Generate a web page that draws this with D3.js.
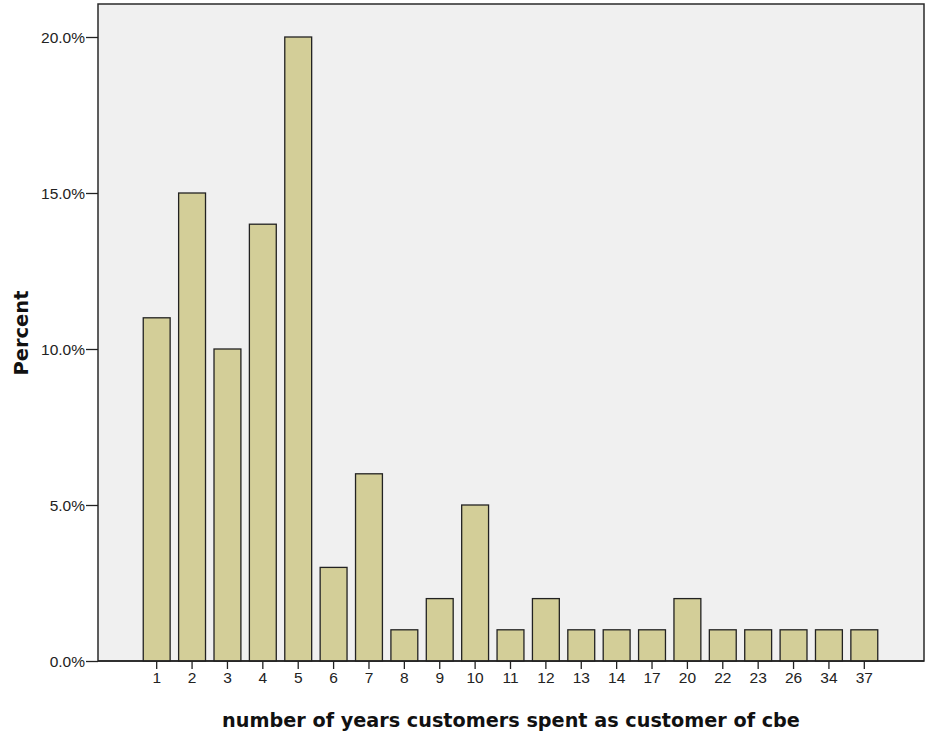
<!DOCTYPE html>
<html><head><meta charset="utf-8">
<script src="https://cdn.jsdelivr.net/npm/d3@7"></script>
<style>body{margin:0;background:#fff;} svg{display:block;}</style>
</head><body>
<svg id="chart" width="927" height="736"></svg>
<script>
const categories = ["1","2","3","4","5","6","7","8","9","10","11","12","13","14","17","20","22","23","26","34","37"];
const percents = [11,15,10,14,20,3,6,1,2,5,1,2,1,1,1,2,1,1,1,1,1];
const yTicks = [0,5,10,15,20];

const svg = d3.select("#chart");
const frame = {left:98, right:924, top:4, bottom:661};
const x = d3.scaleBand().domain(categories).range([139, 882]).paddingInner(0.24).paddingOuter(0.12);
const y = d3.scaleLinear().domain([0,20]).range([661, 37]);
const tickFont = "Liberation Sans, Arial, sans-serif";
const titleFont = "DejaVu Sans, Verdana, sans-serif";

svg.append("rect").attr("x",frame.left).attr("y",frame.top)
  .attr("width",frame.right-frame.left).attr("height",frame.bottom-frame.top)
  .attr("fill","#f0f0f0").attr("stroke","#2a2a2a").attr("stroke-width",1.5);

svg.append("g").selectAll("rect").data(percents).join("rect")
  .attr("x",(d,i)=>x(categories[i]))
  .attr("y",d=>y(d))
  .attr("width",x.bandwidth())
  .attr("height",d=>y(0)-y(d))
  .attr("fill","#d3ce98").attr("stroke","#222").attr("stroke-width",1.3);

const yAxis = svg.append("g").attr("transform",`translate(${frame.left},0)`)
  .call(d3.axisLeft(y).tickValues(yTicks).tickSize(12).tickPadding(1).tickFormat(d=>d.toFixed(1)+"%"));
yAxis.select(".domain").remove();
yAxis.selectAll("line").attr("stroke","#222").attr("stroke-width",1.3);
yAxis.selectAll("text").attr("font-family",tickFont).attr("font-size",15.5).attr("fill","#222").attr("dy","0.36em");

const xAxis = svg.append("g").attr("transform",`translate(0,${frame.bottom})`)
  .call(d3.axisBottom(x).tickSize(8).tickPadding(3));
xAxis.select(".domain").remove();
xAxis.selectAll("line").attr("stroke","#222").attr("stroke-width",1.3);
xAxis.selectAll("text").attr("font-family",tickFont).attr("font-size",15.5).attr("fill","#222");

svg.append("line").attr("x1",frame.left).attr("x2",frame.right).attr("y1",frame.bottom).attr("y2",frame.bottom)
  .attr("stroke","#222").attr("stroke-width",1.5);

const xt = svg.append("text").attr("x",511).attr("y",727).attr("text-anchor","middle")
  .attr("font-family",titleFont).attr("font-weight","bold").attr("font-size",20).attr("fill","#111")
  .text("number of years customers spent as customer of cbe");
const xl = xt.node().getComputedTextLength();
xt.attr("font-size", 20*578/xl);

const yt = svg.append("text").attr("transform","translate(28,333) rotate(-90)").attr("text-anchor","middle")
  .attr("font-family",titleFont).attr("font-weight","bold").attr("font-size",20).attr("fill","#111")
  .text("Percent");
const yl = yt.node().getComputedTextLength();
yt.attr("font-size", 20*85/yl);
</script>
</body></html>
